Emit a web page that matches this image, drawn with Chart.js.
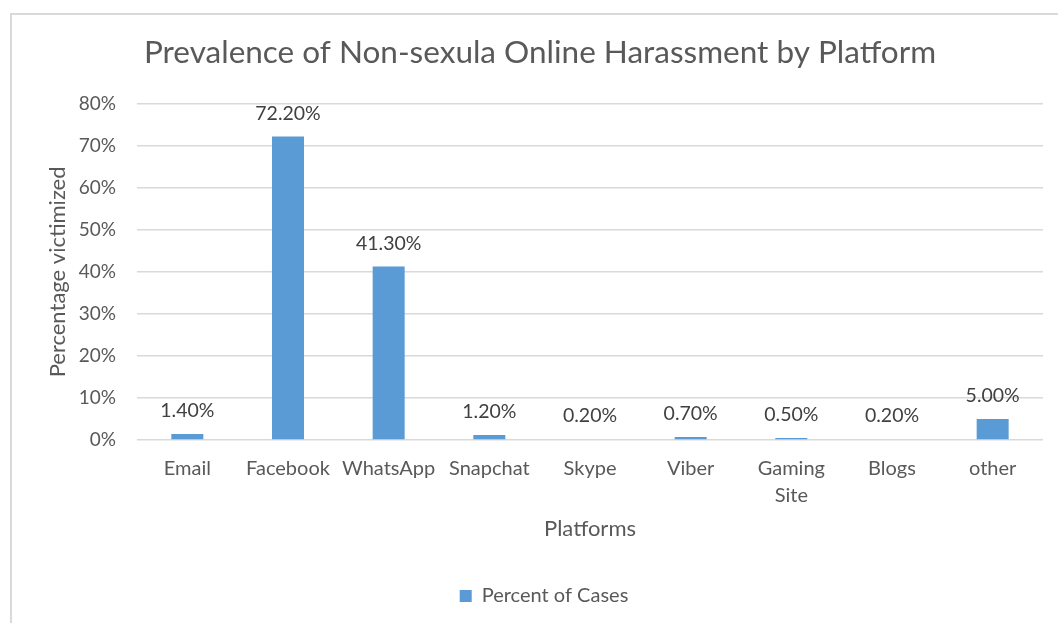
<!DOCTYPE html>
<html>
<head>
<meta charset="utf-8">
<script src="https://cdn.jsdelivr.net/npm/chart.js@4"></script>
<style>
  html, body { margin: 0; padding: 0; background: #fff; overflow: hidden; }
  #frame { position: absolute; left: 10px; top: 13px; width: 1100px; height: 700px; border: 2px solid #d9d9d9; }
  #wrap { position: absolute; left: 0; top: 0; width: 1058px; height: 623px; }
</style>
</head>
<body>
<div id="frame"></div>
<div id="wrap"><canvas id="chart"></canvas></div>
<script>
// platforms and share of victims (%)
const platforms = ['Email', 'Facebook', 'WhatsApp', 'Snapchat', 'Skype', 'Viber', ['Gaming', 'Site'], 'Blogs', 'other'];
const percentOfCases = [1.4, 72.2, 41.3, 1.2, 0.2, 0.7, 0.5, 0.2, 5.0];
const yTicks = [0, 10, 20, 30, 40, 50, 60, 70, 80];

const FONT = 'Lato, "Open Sans", sans-serif';
const GREY = '#595959';

// value labels above each bar
const barLabels = {
    id: 'barLabels',
    afterDatasetsDraw(chart) {
        const ctx = chart.ctx;
        const meta = chart.getDatasetMeta(0);
        ctx.save();
        ctx.font = '19.5px ' + FONT;
        ctx.fillStyle = '#404040';
        ctx.textAlign = 'center';
        ctx.textBaseline = 'middle';
        meta.data.forEach((bar, i) => {
            ctx.fillText(percentOfCases[i].toFixed(2) + '%', bar.x, bar.y - 23);
        });
        ctx.restore();
    }
};

// title and legend sit a bit right of the plot centre in the original
const shiftBoxes = {
    id: 'shiftBoxes',
    afterLayout(chart) {
        chart.titleBlock.left = 37;
        chart.titleBlock.right = 1043;
        chart.legend.left = 45;
        chart.legend.right = 1043;
    }
};

const chart = new Chart(document.querySelector('#chart'), {
    type: 'bar',
    data: {
        labels: platforms,
        datasets: [{
            label: 'Percent of Cases',
            data: percentOfCases,
            backgroundColor: '#5B9BD5',
            categoryPercentage: 1,
            barPercentage: 0.318
        }]
    },
    options: {
        responsive: true,
        maintainAspectRatio: false,
        animation: false,
        layout: {
            padding: { left: 0, right: 15, top: 0, bottom: 7 }
        },
        plugins: {
            title: {
                display: true,
                text: 'Prevalence of Non-sexula Online Harassment by Platform',
                color: GREY,
                font: { family: FONT, size: 31.5, weight: 'normal' },
                padding: { top: 34, bottom: 32 }
            },
            legend: {
                position: 'bottom',
                labels: {
                    color: GREY,
                    boxWidth: 12,
                    boxHeight: 12,
                    font: { family: FONT, size: 20 }
                }
            },
            tooltip: { enabled: false }
        },
        scales: {
            x: {
                grid: { display: false },
                border: { display: false },
                ticks: {
                    color: GREY,
                    padding: 7,
                    maxRotation: 0,
                    font: { family: FONT, size: 20, lineHeight: 1.35 }
                },
                title: {
                    display: true,
                    text: 'Platforms',
                    color: GREY,
                    font: { family: FONT, size: 22 },
                    padding: { top: 0, bottom: 34 }
                },
                afterFit(scale) { scale.height = 136; }
            },
            y: {
                min: 0,
                max: 80,
                grid: { color: '#d9d9d9', lineWidth: 1.5, drawTicks: false },
                border: { display: false },
                afterBuildTicks(scale) { scale.ticks = yTicks.map(v => ({ value: v })); },
                ticks: {
                    color: GREY,
                    padding: 21,
                    font: { family: FONT, size: 19 },
                    callback: v => v + '%'
                },
                title: {
                    display: true,
                    text: 'Percentage victimized',
                    color: GREY,
                    font: { family: FONT, size: 22 },
                    padding: { top: 45, bottom: 0 }
                },
                afterFit(scale) { scale.width = 137; }
            }
        }
    },
    plugins: [barLabels, shiftBoxes]
});
</script>
</body>
</html>
